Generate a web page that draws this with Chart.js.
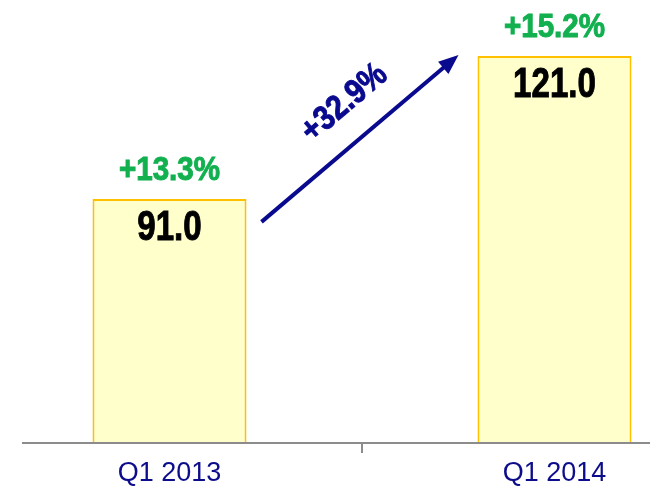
<!DOCTYPE html>
<html>
<head>
<meta charset="utf-8">
<script src="https://cdn.jsdelivr.net/npm/chart.js@4"></script>
<style>
  body { margin: 0; background: #fff; }
  #wrap { position: relative; width: 650px; height: 489px; overflow: hidden; }
  #inner { position: absolute; left: -23px; top: 0; width: 770px; height: 489px; }
</style>
</head>
<body>
<div id="wrap"><div id="inner"><canvas id="myChart"></canvas></div></div>
<script>
// data
var categories = ["Q1 2013", "Q1 2014"];
var values = [91.0, 121.0];
var growth = ["+13.3%", "+15.2%"];
var change = "+32.9%";

var FONT = "'Liberation Sans', Arial, sans-serif";

// narrow heavy text: horizontal squeeze plus a thin outline
function narrowText(ctx, txt, x, y, sx) {
  ctx.save();
  ctx.translate(x, y);
  ctx.scale(sx, 1);
  ctx.fillText(txt, 0, 0);
  ctx.strokeStyle = ctx.fillStyle;
  ctx.lineWidth = 1;
  ctx.strokeText(txt, 0, 0);
  ctx.restore();
}

// value labels, growth labels, arrow, axis line
var labelsPlugin = {
  id: "labels",
  afterDatasetsDraw: function (chart) {
    var ctx = chart.ctx;
    var bars = chart.getDatasetMeta(0).data;
    var area = chart.chartArea;
    ctx.save();

    // axis line (starts a bit right of the left edge like the original)
    ctx.strokeStyle = "#8c8c8c";
    ctx.lineWidth = 2;
    ctx.beginPath();
    ctx.moveTo(45, area.bottom + 1);
    ctx.lineTo(chart.width, area.bottom + 1);
    ctx.stroke();

    ctx.textAlign = "center";
    ctx.textBaseline = "middle";
    bars.forEach(function (bar, i) {
      ctx.fillStyle = "#000";
      ctx.font = "bold 43px " + FONT;
      narrowText(ctx, values[i].toFixed(1), bar.x, bar.y + 29, 0.77);
      ctx.fillStyle = "#12b04f";
      ctx.font = "bold 34px " + FONT;
      narrowText(ctx, growth[i], bar.x, bar.y - 28, 0.87);
    });

    // arrow between the bars
    var b1 = bars[0], b2 = bars[1];
    var x1 = b1.x + b1.width / 2 + 15, y1 = b1.y + 23;
    var x2 = b2.x - b2.width / 2 - 19, y2 = b2.y - 1;
    var ang = Math.atan2(y2 - y1, x2 - x1);
    var c = Math.cos(ang), s = Math.sin(ang);
    ctx.strokeStyle = "#0a0a8f";
    ctx.fillStyle = "#0a0a8f";
    ctx.lineWidth = 4;
    ctx.beginPath();
    ctx.moveTo(x1, y1);
    ctx.lineTo(x2 - 14 * c, y2 - 14 * s);
    ctx.stroke();
    ctx.beginPath();
    ctx.moveTo(x2, y2);
    ctx.lineTo(x2 - 20 * c + 8 * s, y2 - 20 * s - 8 * c);
    ctx.lineTo(x2 - 20 * c - 8 * s, y2 - 20 * s + 8 * c);
    ctx.closePath();
    ctx.fill();

    // rotated change label, above the arrow
    var mx = (x1 + x2) / 2 + 11 * c + 37 * s;
    var my = (y1 + y2) / 2 + 11 * s - 37 * c;
    ctx.translate(mx, my);
    ctx.rotate(ang);
    ctx.font = "bold 34px " + FONT;
    narrowText(ctx, change, 0, 0, 0.87);
    ctx.restore();
  }
};

var ctx = document.getElementById("myChart").getContext("2d");
var chart = new Chart(ctx, {
  type: "bar",
  data: {
    labels: categories,
    datasets: [
      {
        data: values,
        backgroundColor: "#ffffcc",
        borderColor: "#ffc000",
        borderWidth: 2,
        barPercentage: 0.4,
        categoryPercentage: 1.0
      }
    ]
  },
  options: {
    responsive: true,
    maintainAspectRatio: false,
    animation: false,
    layout: { padding: { top: 13, left: 0, right: 0, bottom: 0 } },
    plugins: { legend: { display: false }, tooltip: { enabled: false } },
    scales: {
      x: {
        afterFit: function (s) { s.height = 47; },
        border: { display: false },
        grid: { drawOnChartArea: false, drawTicks: true, tickLength: 11, color: "#8c8c8c", lineWidth: 2 },
        ticks: { color: "#0d0d8c", font: { family: FONT, size: 27 }, padding: 4 }
      },
      y: { display: false, min: 40, max: 130 }
    }
  },
  plugins: [labelsPlugin]
});
</script>
</body>
</html>
